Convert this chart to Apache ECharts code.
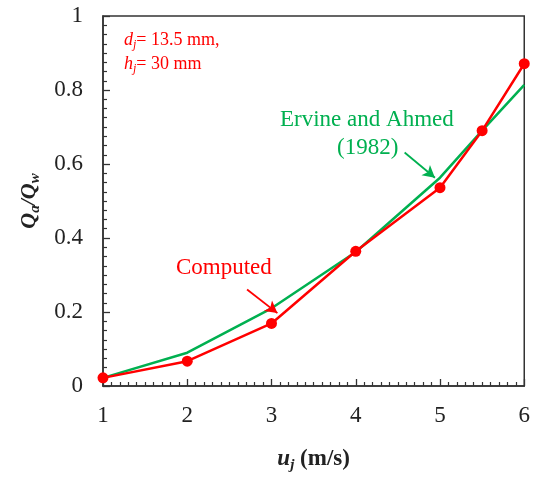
<!DOCTYPE html>
<html><head><meta charset="utf-8">
<script src="https://cdn.jsdelivr.net/npm/echarts@6/dist/echarts.min.js"></script>
<style>html,body{margin:0;padding:0;background:#fff;overflow:hidden}#c{width:533px;height:478px}</style>
</head><body><div id="c"></div>
<script>
var xVals = [1, 2, 3, 4, 5, 5.5, 6];
var computed = [0.022, 0.067, 0.169, 0.364, 0.536, 0.69, 0.871];
var ervine = [0.022, 0.09, 0.21, 0.362, 0.563, 0.69, 0.814];
var xTicks = [1, 2, 3, 4, 5, 6];
var yTicks = [0, 0.2, 0.4, 0.6, 0.8, 1];

var FONT = '"Liberation Serif", "Times New Roman", serif';
var RED = '#ff0000', GREEN = '#00b050';

function pairs(xs, ys){ return xs.map(function(x,i){ return [x, ys[i]]; }); }

var chart = echarts.init(document.getElementById('c'), null, {width: 533, height: 478});
chart.setOption({
  animation: false,
  grid: {left: 103, top: 16, width: 424, height: 371, show: true, borderColor: '#333', borderWidth: 1.5},
  xAxis: {
    type: 'value', min: 1, max: 6, interval: 1,
    axisLine: {lineStyle: {color: '#333', width: 1.5}},
    axisTick: {inside: true, length: 7, lineStyle: {color: '#333', width: 1.3}},
    minorTick: {show: true, splitNumber: 10, length: 4, lineStyle: {color: '#333', width: 1.2}},
    splitLine: {show: false},
    axisLabel: {fontFamily: FONT, fontSize: 23, color: '#222', margin: 18},
    name: '{b|u}{s|j}{n| (m/s)}',
    nameLocation: 'middle', nameGap: 60,
    nameTextStyle: {
      rich: {
        b: {fontFamily: FONT, fontSize: 23, fontWeight: 'bold', fontStyle: 'italic', color: '#222'},
        s: {fontFamily: FONT, fontSize: 15, fontWeight: 'bold', fontStyle: 'italic', color: '#222', padding: [12,0,0,0]},
        n: {fontFamily: FONT, fontSize: 23, fontWeight: 'bold', color: '#222'}
      }
    }
  },
  yAxis: {
    type: 'value', min: 0, max: 1, interval: 0.2,
    axisLine: {show: true, lineStyle: {color: '#333', width: 1.5}},
    axisTick: {show: true, inside: true, length: 7, lineStyle: {color: '#333', width: 1.3}},
    minorTick: {show: true, splitNumber: 8, length: 4, lineStyle: {color: '#333', width: 1.2}},
    splitLine: {show: false},
    axisLabel: {fontFamily: FONT, fontSize: 23, color: '#222', margin: 20,
      formatter: function(v){ return String(Math.round(v*10)/10); }},
    name: '{b|Q}{s|a}{b|/Q}{s|w}',
    nameLocation: 'middle', nameGap: 60, nameRotate: 90,
    nameTextStyle: {
      rich: {
        b: {fontFamily: FONT, fontSize: 22, fontWeight: 'bold', fontStyle: 'italic', color: '#222'},
        s: {fontFamily: FONT, fontSize: 15, fontWeight: 'bold', fontStyle: 'italic', color: '#222', padding: [12,0,0,0]}
      }
    }
  },
  series: [
    {
      type: 'line', name: 'Ervine and Ahmed (1982)', data: pairs(xVals, ervine),
      showSymbol: false, symbol: 'none', lineStyle: {color: GREEN, width: 2.5}, z: 2,
      markLine: {
        silent: true, symbol: ['none', 'arrow'], symbolSize: [10, 12],
        label: {show: false},
        lineStyle: {color: GREEN, width: 1.8, type: 'solid'},
        data: [[{coord: [4.58, 0.631]}, {coord: [4.94, 0.563]}]]
      }
    },
    {
      type: 'line', name: 'Computed', data: pairs(xVals, computed),
      symbol: 'circle', symbolSize: 11, itemStyle: {color: RED},
      lineStyle: {color: RED, width: 2.5}, z: 3,
      markLine: {
        silent: true, symbol: ['none', 'arrow'], symbolSize: [10, 12],
        label: {show: false},
        lineStyle: {color: RED, width: 1.8, type: 'solid'},
        data: [[{coord: [2.71, 0.261]}, {coord: [3.07, 0.197]}]]
      }
    }
  ],
  graphic: [
    {type: 'text', left: 124, top: 31, style: {
      text: '{i|d}{s|j}{n|= 13.5 mm,}',
      rich: {
        i: {fontFamily: FONT, fontSize: 18, fontStyle: 'italic', fill: RED},
        s: {fontFamily: FONT, fontSize: 12, fontStyle: 'italic', fill: RED, padding: [9,0,0,0]},
        n: {fontFamily: FONT, fontSize: 18, fill: RED}
      }}},
    {type: 'text', left: 124, top: 55, style: {
      text: '{i|h}{s|j}{n|= 30 mm}',
      rich: {
        i: {fontFamily: FONT, fontSize: 18, fontStyle: 'italic', fill: RED},
        s: {fontFamily: FONT, fontSize: 12, fontStyle: 'italic', fill: RED, padding: [9,0,0,0]},
        n: {fontFamily: FONT, fontSize: 18, fill: RED}
      }}},
    {type: 'text', left: 280, top: 108, style: {
      text: 'Ervine and Ahmed', fontFamily: FONT, fontSize: 23, fill: GREEN}},
    {type: 'text', left: 337, top: 136, style: {
      text: '(1982)', fontFamily: FONT, fontSize: 23, fill: GREEN}},
    {type: 'text', left: 176, top: 256, style: {
      text: 'Computed', fontFamily: FONT, fontSize: 23, fill: RED}}
  ]
});
</script>
</body></html>
